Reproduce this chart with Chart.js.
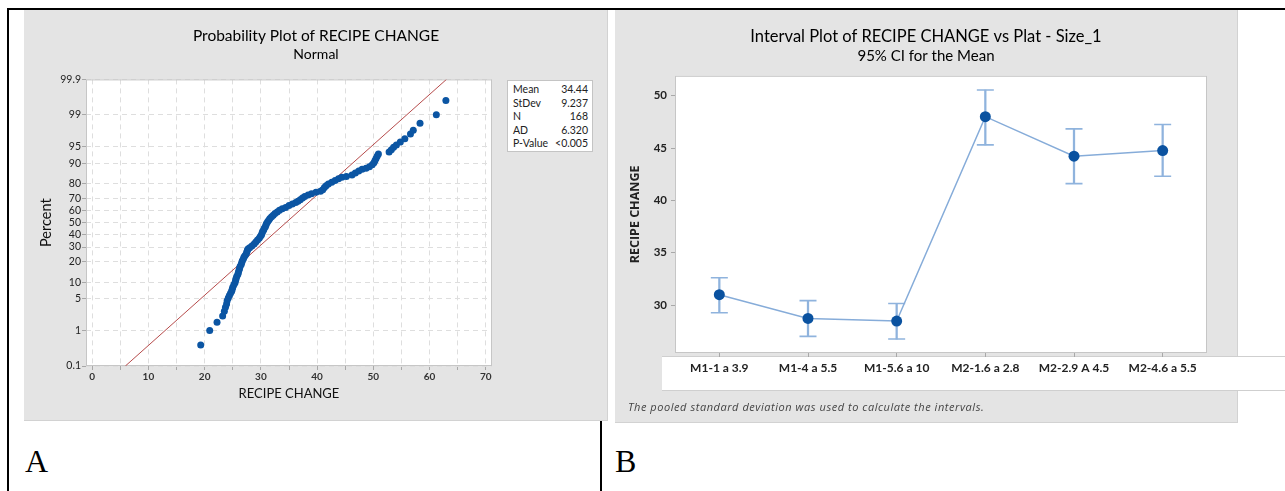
<!DOCTYPE html>
<html>
<head>
<meta charset="utf-8">
<script src="https://cdn.jsdelivr.net/npm/chart.js@4/dist/chart.umd.min.js"></script>
<style>
  body { margin: 0; width: 1285px; height: 491px; background: #fff; position: relative; overflow: hidden; font-family: Lato, sans-serif; }
  .abs { position: absolute; }
  .panel { background: #e4e4e4; border-right: 1px solid #d2d2d2; border-bottom: 1px solid #d2d2d2; box-sizing: border-box; }
  #statsBox { left: 507px; top: 80px; width: 86px; height: 72px; background: #fff; border: 1px solid #c4c4c4; box-sizing: border-box; font-size: 10.5px; color: #222; padding: 2px 4px 0 5px; }
  #statsBox .row { display: flex; justify-content: space-between; line-height: 13.5px; }
  .letter { font-family: "Liberation Serif", serif; font-size: 32px; line-height: 32px; color: #000; }
</style>
</head>
<body>
<div class="abs" style="left:7px;top:8px;width:1278px;height:2px;background:#000"></div>
<div class="abs" style="left:7px;top:8px;width:2px;height:483px;background:#000"></div>
<div class="abs" style="left:600px;top:421px;width:2px;height:70px;background:#000"></div>

<div class="abs panel" style="left:24px;top:10px;width:584px;height:411px"></div>
<div class="abs panel" style="left:615px;top:10px;width:623px;height:413px"></div>
<div class="abs" style="left:662px;top:356px;width:623px;height:35px;background:#fff;border-top:1px solid #cfcfcf;border-bottom:1px solid #cfcfcf;box-sizing:border-box"></div>

<canvas id="probChart" class="abs" style="left:24px;top:10px"></canvas>
<canvas id="intervalChart" class="abs" style="left:615px;top:10px"></canvas>

<div id="statsBox" class="abs"></div>
<div class="abs" style="left:628px;top:400px;font-family:'Open Sans',sans-serif;font-size:11px;letter-spacing:0.55px;line-height:14px;font-style:italic;color:#444">The pooled standard deviation was used to calculate the intervals.</div>
<div class="abs letter" style="left:25px;top:445px">A</div>
<div class="abs letter" style="left:615px;top:445px">B</div>

<script>
// Probability plot data (value, cumulative percent)
const recipeValues = [19.3, 20.9, 22.2, 23.2, 23.5, 23.7, 23.9, 24.0, 24.2, 24.4, 24.6, 24.8, 24.9, 25.0, 25.2, 25.4, 25.5, 25.6, 25.7, 25.9,
  26.0, 26.1, 26.2, 26.3, 26.5, 26.6, 26.7, 26.9, 27.0, 27.2, 27.4, 27.5, 27.6, 27.7, 28.0, 28.4, 28.8, 29.1, 29.4, 29.7,
  29.9, 30.1, 30.2, 30.3, 30.5, 30.6, 30.8, 30.9, 31.0, 31.2, 31.4, 31.6, 31.9, 32.2, 32.5, 32.9, 33.3, 33.8, 34.4, 35.0,
  35.6, 36.2, 36.6, 37.0, 37.4, 37.8, 38.4, 39.0, 39.8, 40.6, 41.0, 41.3, 41.6, 42.0, 42.6, 43.2, 43.8, 44.4, 45.2, 46.2,
  46.8, 47.4, 48.0, 48.7, 49.3, 49.8, 50.1, 50.3, 50.5, 50.7, 50.9, 52.8, 53.2, 53.6, 54.1, 54.8, 55.6, 56.6, 57.1, 58.3,
  61.2, 62.9];
const percentValues = [0.42, 1.0, 1.6, 2.2, 2.8, 3.4, 4.0, 4.6, 5.2, 5.8, 6.4, 7.0, 7.6, 8.2, 9.0, 9.8, 10.6, 11.4, 12.3, 13.2,
  14.2, 15.2, 16.2, 17.3, 18.4, 19.5, 20.6, 21.8, 22.9, 24.0, 25.2, 26.4, 27.6, 28.5, 29.5, 30.7, 32.3, 33.9, 35.4, 36.8,
  38.2, 39.6, 41.0, 42.4, 43.8, 45.2, 46.6, 48.0, 49.4, 50.8, 52.2, 53.6, 55.0, 56.4, 57.8, 59.2, 60.6, 61.8, 62.8, 64.5,
  65.6, 66.8, 67.8, 69.0, 70.2, 71.4, 72.4, 73.4, 74.4, 75.2, 76.2, 77.6, 78.8, 79.8, 80.8, 81.8, 82.8, 83.6, 84.0, 84.8,
  85.8, 86.8, 87.6, 88.0, 88.6, 89.4, 90.2, 91.0, 91.8, 92.5, 93.1, 93.6, 94.2, 94.8, 95.3, 95.9, 96.5, 97.2, 97.7, 98.4,
  99.0, 99.58];
const fitLineValues = [5.9, 63.0];
const fitLinePercents = [0.1, 99.9];
const percentTicks = [0.1, 1, 5, 10, 20, 30, 40, 50, 60, 70, 80, 90, 95, 99, 99.9];
const percentTickLabels = ["0.1", "1", "5", "10", "20", "30", "40", "50", "60", "70", "80", "90", "95", "99", "99.9"];
const recipeTicks = [0, 5, 10, 15, 20, 25, 30, 35, 40, 45, 50, 55, 60, 65, 70];
const statLabels = ["Mean", "StDev", "N", "AD", "P-Value"];
const statValues = ["34.44", "9.237", "168", "6.320", "<0.005"];

// Interval plot data
const platCategories = ["M1-1 a 3.9", "M1-4 a 5.5", "M1-5.6 a 10", "M2-1.6 a 2.8", "M2-2.9 A 4.5", "M2-4.6 a 5.5"];
const meanValues = [31.0, 28.73, 28.48, 48.0, 44.22, 44.76];
const ciLow = [29.27, 27.02, 26.76, 45.3, 41.6, 42.31];
const ciHigh = [32.62, 30.43, 30.16, 50.54, 46.83, 47.25];
const intervalTicks = [30, 35, 40, 45, 50];

// inverse standard normal (Acklam) for the normal probability scale
function normInv(p) {
  const a = [-3.969683028665376e+01, 2.209460984245205e+02, -2.759285104469687e+02, 1.383577518672690e+02, -3.066479806614716e+01, 2.506628277459239e+00];
  const b = [-5.447609879822406e+01, 1.615858368580409e+02, -1.556989798598866e+02, 6.680131188771972e+01, -1.328068155288572e+01];
  const c = [-7.784894002430293e-03, -3.223964580411365e-01, -2.400758277161838e+00, -2.549732539343734e+00, 4.374664141464968e+00, 2.938163982698783e+00];
  const d = [7.784695709041462e-03, 3.224671290700398e-01, 2.445134137142996e+00, 3.754408661907416e+00];
  const pl = 0.02425;
  let q, r;
  if (p < pl) {
    q = Math.sqrt(-2 * Math.log(p));
    return (((((c[0]*q+c[1])*q+c[2])*q+c[3])*q+c[4])*q+c[5]) / ((((d[0]*q+d[1])*q+d[2])*q+d[3])*q+1);
  }
  if (p <= 1 - pl) {
    q = p - 0.5; r = q * q;
    return (((((a[0]*r+a[1])*r+a[2])*r+a[3])*r+a[4])*r+a[5])*q / (((((b[0]*r+b[1])*r+b[2])*r+b[3])*r+b[4])*r+1);
  }
  q = Math.sqrt(-2 * Math.log(1 - p));
  return -(((((c[0]*q+c[1])*q+c[2])*q+c[3])*q+c[4])*q+c[5]) / ((((d[0]*q+d[1])*q+d[2])*q+d[3])*q+1);
}
const pz = pct => normInv(pct / 100);

document.getElementById("statsBox").innerHTML = statLabels.map((l, i) =>
  '<div class="row"><span>' + l + '</span><span>' + statValues[i] + '</span></div>').join("");

Chart.defaults.font.family = "Lato, sans-serif";
Chart.defaults.color = "#222";

// white plot area + light frame
const plotFrame = {
  id: "plotFrame",
  beforeDraw(chart) {
    const { ctx, chartArea: ca } = chart;
    ctx.save();
    ctx.fillStyle = "#fff";
    ctx.fillRect(ca.left, ca.top, ca.right - ca.left, ca.bottom - ca.top);
    ctx.restore();
  },
  beforeDatasetsDraw(chart) {
    const { ctx, chartArea: ca } = chart;
    ctx.save();
    ctx.strokeStyle = "#c6c6c6";
    ctx.lineWidth = 1;
    ctx.strokeRect(ca.left + 0.5, ca.top + 0.5, ca.right - ca.left - 1, ca.bottom - ca.top - 1);
    ctx.restore();
  }
};

function sizeCanvas(id, w, h) {
  const el = document.getElementById(id);
  el.width = w; el.height = h;
  el.style.width = w + "px"; el.style.height = h + "px";
  return el;
}

// empty right-hand axis that only reserves room, so titles stay centred on the panel
function spacerAxis(w) {
  return {
    type: "linear",
    position: "right",
    display: true,
    afterFit: s => { s.width = w; },
    ticks: { display: false },
    grid: { display: false },
    border: { display: false }
  };
}

// A: normal probability plot
const c1 = sizeCanvas("probChart", 584, 411);
new Chart(c1.getContext("2d"), {
  type: "scatter",
  data: {
    datasets: [
      {
        data: recipeValues.map((v, i) => ({ x: v, y: pz(percentValues[i]) })),
        backgroundColor: "#0b55a3",
        borderWidth: 0,
        pointRadius: 3.5,
        order: 0
      },
      {
        type: "line",
        data: fitLineValues.map((v, i) => ({ x: v, y: pz(fitLinePercents[i]) })),
        borderColor: "#b64b4b",
        borderWidth: 1,
        pointRadius: 0,
        order: 1
      }
    ]
  },
  options: {
    responsive: false,
    animation: false,
    events: [],
    layout: { padding: 0 },
    plugins: {
      legend: { display: false },
      tooltip: { enabled: false },
      title: { display: true, text: "Probability Plot of RECIPE CHANGE", font: { size: 15.5, weight: "normal" }, color: "#000", padding: { top: 17, bottom: 0 } },
      subtitle: { display: true, text: "Normal", font: { size: 14 }, color: "#000", padding: { top: 0, bottom: 17 } }
    },
    scales: {
      x: {
        type: "linear",
        min: -1.1,
        max: 71.1,
        afterFit: s => { s.height = 55; },
        afterBuildTicks: s => { s.ticks = recipeTicks.map(v => ({ value: v })); },
        ticks: { padding: 1, font: { size: 10, weight: "bold" }, color: "#333", callback: v => (v % 10 === 0 ? String(v) : ""), maxRotation: 0 },
        grid: { color: "#dedede", tickColor: "#a8a8a8", tickLength: 4 },
        border: { display: false, dash: [5, 4] },
        title: { display: true, text: "RECIPE CHANGE", font: { size: 13 }, color: "#111", padding: { top: 0, bottom: 19 } }
      },
      y: {
        type: "linear",
        min: pz(0.1),
        max: pz(99.9),
        afterFit: s => { s.width = 62; },
        afterBuildTicks: s => { s.ticks = percentTicks.map(p => ({ value: pz(p) })); },
        ticks: { padding: 1, autoSkip: false, font: { size: 10.5 }, color: "#222", callback: (v, i) => percentTickLabels[i] },
        grid: { color: "#dedede", tickColor: "#a8a8a8", tickLength: 4 },
        border: { display: false, dash: [5, 4] },
        title: { display: true, text: "Percent", font: { size: 14.5 }, color: "#111", padding: { top: 14, bottom: 0 } }
      },
      pad: spacerAxis(116)
    }
  },
  plugins: [plotFrame]
});

// B: interval plot
const c2 = sizeCanvas("intervalChart", 622, 413);
new Chart(c2.getContext("2d"), {
  type: "line",
  data: {
    labels: platCategories,
    datasets: [
      {
        data: meanValues,
        borderColor: "#86acd9",
        borderWidth: 1.5,
        tension: 0,
        pointRadius: 5.5,
        pointBackgroundColor: "#0a52a0",
        pointBorderWidth: 0,
        order: 0
      },
      {
        type: "bar",
        data: ciLow.map((l, i) => [l, ciHigh[i]]),
        backgroundColor: "#8fb3dd",
        barThickness: 1.6,
        order: 2
      },
      {
        data: ciHigh,
        showLine: false,
        pointStyle: "line",
        pointRadius: 8.5,
        pointBorderColor: "#8fb3dd",
        pointBorderWidth: 1.6,
        order: 1
      },
      {
        data: ciLow,
        showLine: false,
        pointStyle: "line",
        pointRadius: 8.5,
        pointBorderColor: "#8fb3dd",
        pointBorderWidth: 1.6,
        order: 1
      }
    ]
  },
  options: {
    responsive: false,
    animation: false,
    events: [],
    layout: { padding: 0 },
    plugins: {
      legend: { display: false },
      tooltip: { enabled: false },
      title: { display: true, text: "Interval Plot of RECIPE CHANGE vs Plat - Size_1", font: { size: 16.5, weight: "normal" }, color: "#000", padding: { top: 17, bottom: 0 } },
      subtitle: { display: true, text: "95% CI for the Mean", font: { size: 15 }, color: "#000", padding: { top: 0, bottom: 11 } }
    },
    scales: {
      x: {
        type: "category",
        offset: true,
        afterFit: s => { s.height = 70; },
        ticks: { padding: 4, font: { size: 12, weight: "bold" }, color: "#222", maxRotation: 0, autoSkip: false },
        grid: { drawOnChartArea: false, offset: false, tickColor: "#a8a8a8", tickLength: 4 },
        border: { display: false }
      },
      y: {
        type: "linear",
        min: 25.43,
        max: 51.9,
        afterFit: s => { s.width = 60; },
        afterBuildTicks: s => { s.ticks = intervalTicks.map(v => ({ value: v })); },
        ticks: { padding: 4, font: { size: 11.5, weight: "bold" }, color: "#222" },
        grid: { drawOnChartArea: false, tickColor: "#a8a8a8", tickLength: 4 },
        border: { display: false },
        title: { display: true, text: "RECIPE CHANGE", font: { family: "'Open Sans', sans-serif", size: 12.5, weight: "bold" }, color: "#222", padding: { top: 13, bottom: 0 } }
      },
      pad: spacerAxis(30)
    }
  },
  plugins: [plotFrame]
});
</script>
</body>
</html>
